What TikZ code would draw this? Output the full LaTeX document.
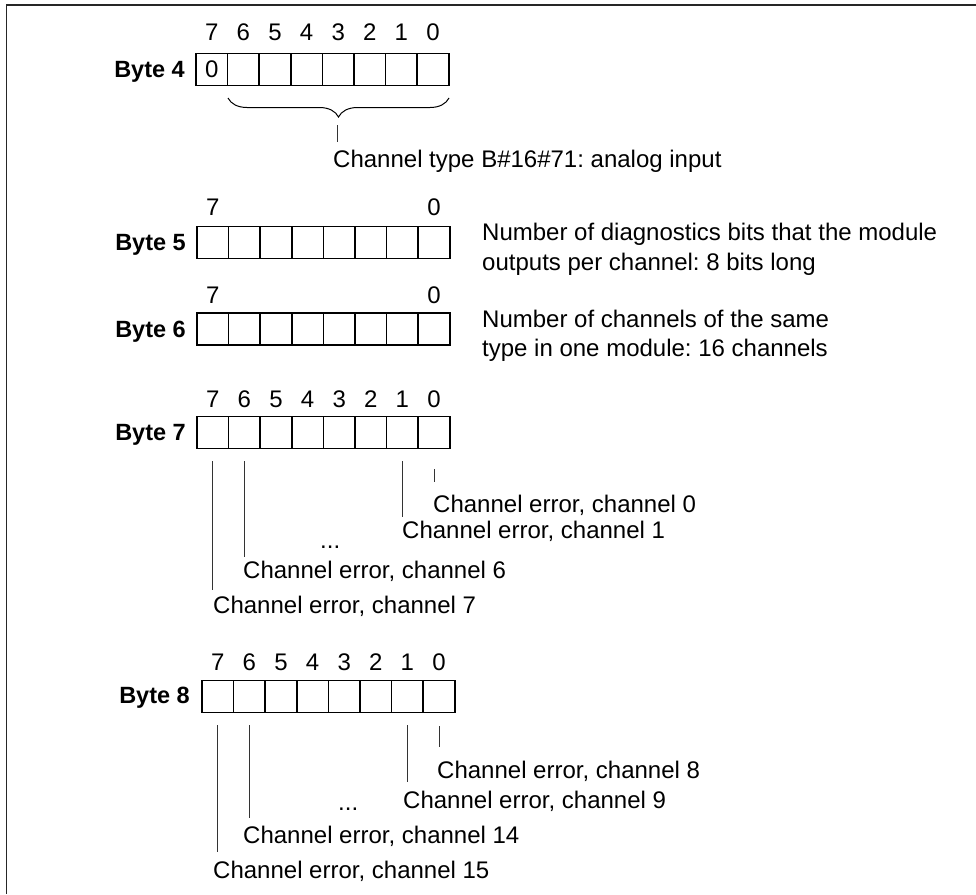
\documentclass[tikz,border=0pt]{standalone}
\usepackage{fontspec}
\setmainfont{Liberation Sans}
\usetikzlibrary{decorations.pathreplacing}
\frenchspacing
\begin{document}
\frenchspacing
\begin{tikzpicture}[x=1pt,y=-1pt,
  cell/.style={draw, line width=1.5pt, minimum width=31.6pt, minimum height=32pt, inner sep=0pt},
  txt/.style={inner sep=0pt, anchor=base west, font=\fontsize{24}{29.5}\selectfont},
  digit/.style={inner sep=0pt, anchor=base, font=\fontsize{24}{29}\selectfont},
  bytelbl/.style={inner sep=0pt, anchor=base east, font=\fontsize{23.5}{29}\selectfont\bfseries},
  leader/.style={draw, line width=1pt, black!80},
  frame/.style={draw, line width=1.6pt, black!85}]
\useasboundingbox (0,0) rectangle (976,894);
\draw[frame] (976,4.7) -- (6.5,4.7) -- (6.5,894);
% ---------- byte rows ----------
\foreach \b/\left/\cy in {4/196/69.5, 5/197/242.5, 6/197/329, 7/197/432.5, 8/202/696.5}{
  \foreach \i in {0,...,7}{
    \node[cell] (b\b c\i) at ({\left+(7-\i+0.5)*31.6}, \cy) {};
  }
}
% byte labels
\node[bytelbl] (l4) at (185,77) {Byte 4};
\node[bytelbl] (l5) at (186,250) {Byte 5};
\node[bytelbl] (l6) at (186,337) {Byte 6};
\node[bytelbl] (l7) at (186,440) {Byte 7};
\node[bytelbl] (l8) at (190,703) {Byte 8};
% bit numbers
\foreach \b/\y in {4/40, 7/407, 8/670}{
  \foreach \i in {0,...,7}{
    \node[digit] (n\b d\i) at (b\b c\i.center |- 0,\y) {\i};
  }
}
\foreach \b/\y in {5/215, 6/303}{
  \node[digit] (n\b d7) at (b\b c7.center |- 0,\y) {7};
  \node[digit] (n\b d0) at (b\b c0.center |- 0,\y) {0};
}
\node[digit] (z4) at (b4c7.center |- 0,77) {0};
% ---------- byte 4 brace ----------
\coordinate (br1) at (228,98);
\coordinate (br2) at (449,98);
\draw[line width=1pt, decorate, decoration={brace, mirror, amplitude=19pt}] (br1) -- (br2);
\coordinate (bt1) at (337,125);
\coordinate (bt2) at (337,142);
\draw[leader] (bt1) -- (bt2);
\node[txt] (t4) at (333,167) {Channel type B\#16\#71: analog input};
% ---------- byte 5/6 texts ----------
\node[txt, anchor=west, align=left] (t5) at (482,249.5) {Number of diagnostics bits that the module\\outputs per channel: 8 bits long};
\node[txt, anchor=west, align=left] (t6) at (482,336) {Number of channels of the same\\type in one module: 16 channels};
% ---------- byte 7 ----------
\coordinate (e70) at (b7c0.center |- 0,482);
\coordinate (e71) at (b7c1.center |- 0,517);
\coordinate (e76) at (b7c6.center |- 0,557);
\coordinate (e77) at (b7c7.center |- 0,590);
\draw[leader] ([yshift=-20pt]b7c0.south) -- (e70);
\draw[leader] ([yshift=-12pt]b7c1.south) -- (e71);
\draw[leader] ([yshift=-12pt]b7c6.south) -- (e76);
\draw[leader] ([yshift=-12pt]b7c7.south) -- (e77);
\node[txt] (c0) at (433,512) {Channel error, channel 0};
\node[txt] (c1) at (402,538) {Channel error, channel 1};
\node[txt] (d7) at (320,548) {...};
\node[txt] (c6) at (243,578) {Channel error, channel 6};
\node[txt] (c7) at (213,613) {Channel error, channel 7};
% ---------- byte 8 ----------
\coordinate (e80) at (b8c0.center |- 0,747);
\coordinate (e81) at (b8c1.center |- 0,782);
\coordinate (e86) at (b8c6.center |- 0,818);
\coordinate (e87) at (b8c7.center |- 0,852);
\draw[leader] ([yshift=-13pt]b8c0.south) -- (e80);
\draw[leader] ([yshift=-12pt]b8c1.south) -- (e81);
\draw[leader] ([yshift=-12pt]b8c6.south) -- (e86);
\draw[leader] ([yshift=-12pt]b8c7.south) -- (e87);
\node[txt] (c8) at (437,778) {Channel error, channel 8};
\node[txt] (c9) at (403,808) {Channel error, channel 9};
\node[txt] (d8) at (338,810) {...};
\node[txt] (c14) at (243,843) {Channel error, channel 14};
\node[txt] (c15) at (213,878) {Channel error, channel 15};
\end{tikzpicture}
\end{document}
